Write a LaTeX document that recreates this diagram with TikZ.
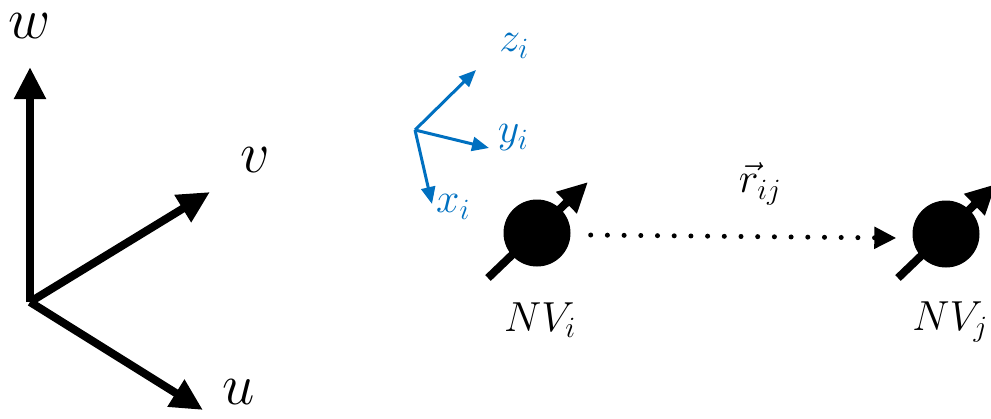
\documentclass[tikz,border=0pt]{standalone}
\usepackage{fix-cm}
\usepackage{amsmath}
\usepackage{xcolor}
\usetikzlibrary{arrows.meta, positioning, calc}
\definecolor{axisblue}{RGB}{0, 112, 192}

\begin{document}
\begin{tikzpicture}[
  x=1pt, y=-1pt,
  every node/.style={font=\fontsize{42}{50}\selectfont, inner sep=0pt},
  biglabel/.style={font=\fontsize{58}{70}\selectfont},
  labaxis/.style={-{Triangle[length=32pt, width=30pt]}, line width=8pt, color=black},
  localaxis/.style={-{Triangle[length=17pt, width=14pt]}, line width=3pt, color=axisblue},
  spin/.style={circle, fill=black, minimum size=67pt, inner sep=0pt},
  moment/.style={-{Triangle[length=30pt, width=28pt]}, line width=8pt},
  bond/.style={-{Triangle[length=22pt, width=21pt]}, line width=5pt,
    line cap=round, dash pattern=on 0pt off 16.7pt}
]
  \useasboundingbox (0,0) rectangle (991,418);

  % Referenzsystem u, v, w
  \coordinate (o) at (30,302);
  \coordinate (wtip) at (30,67);
  \coordinate (vtip) at (210,192);
  \coordinate (utip) at (203,410);
  \draw[labaxis] (o) -- (wtip);
  \draw[labaxis] (o) -- (vtip);
  \draw[labaxis] (o) -- (utip);
  \node[biglabel] (wlab) at (30,26) {$w$};
  \node[biglabel] (vlab) at (255,160) {$v$};
  \node[biglabel] (ulab) at (239,392) {$u$};

  % lokales System des NV-Zentrums
  \coordinate (oi) at (415,130);
  \coordinate (zitip) at (476,70);
  \coordinate (yitip) at (489,148);
  \coordinate (xitip) at (432,204);
  \draw[localaxis] (oi) -- (zitip);
  \draw[localaxis] (oi) -- (yitip);
  \draw[localaxis] (oi) -- (xitip);
  \node[text=axisblue] (zilab) at (514,46) {$z_i$};
  \node[text=axisblue] (yilab) at (513,138) {$y_i$};
  \node[text=axisblue] (xilab) at (453,207) {$x_i$};

  % Spins
  \node[spin] (nvi) at (537,233) {};
  \node[spin] (nvj) at (946,234) {};
  \coordinate (nvi-tail) at (488,278);
  \coordinate (nvi-head) at (588,182);
  \coordinate (nvj-tail) at (898,278);
  \coordinate (nvj-head) at (996,184);
  \draw[moment] (nvi-tail) -- (nvi-head);
  \draw[moment] (nvj-tail) -- (nvj-head);
  \node (nvilab) at (540,320) {$NV_i$};
  \node (nvjlab) at (950,322) {$NV_j$};

  % Abstandsvektor
  \draw[bond] ([xshift=20pt, yshift=-2pt]nvi.east) -- ([xshift=-16pt, yshift=-4pt]nvj.west);
  \node (rlab) at (760,184) {$\vec{r}_{ij}$};
\end{tikzpicture}
\end{document}
